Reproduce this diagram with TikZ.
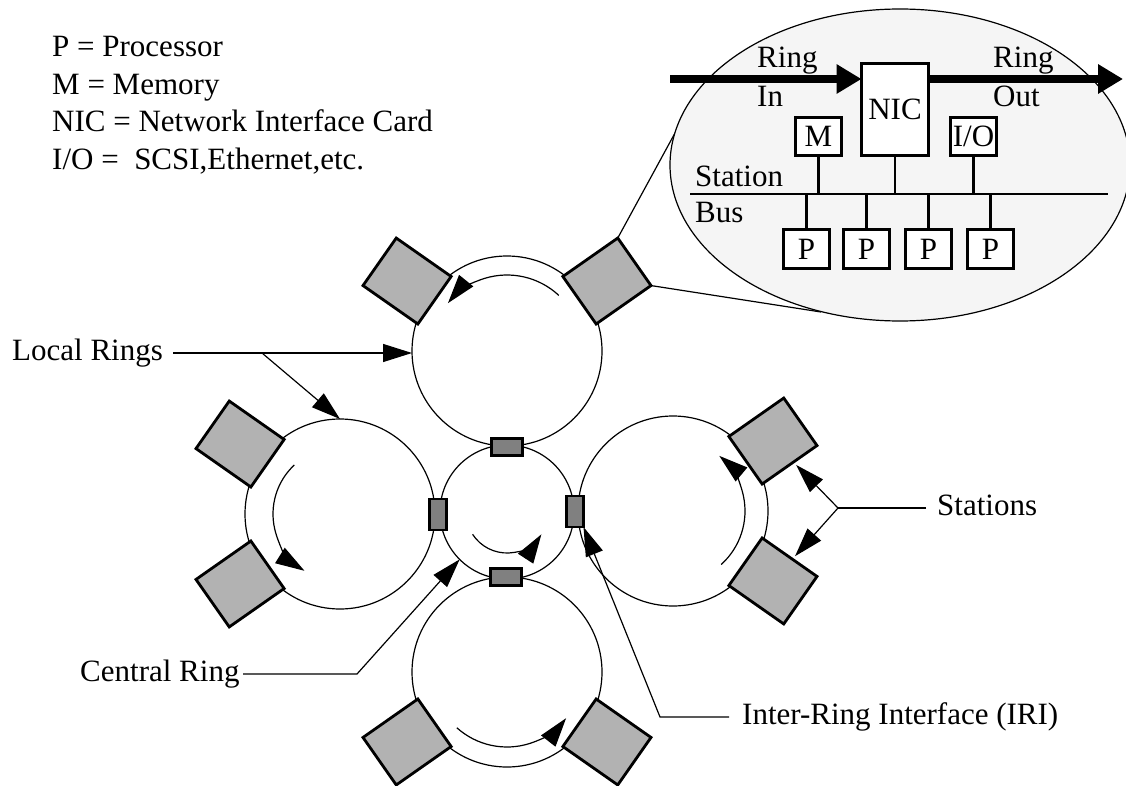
\documentclass[tikz,border=0pt]{standalone}
\usepackage{fontspec}
\setmainfont{Liberation Serif}
\usetikzlibrary{arrows.meta,calc,shapes.geometric}
\begin{document}
\begin{tikzpicture}[x=1pt,y=1pt,
  font=\fontsize{31}{37.7}\selectfont,
  ringnode/.style={circle, draw, line width=1.2pt, inner sep=0pt, outer sep=0pt},
  station/.style={draw, line width=2.8pt, fill=black!30, minimum width=67pt, minimum height=58pt, inner sep=0pt, outer sep=0pt},
  iri/.style={draw, line width=2.6pt, fill=black!50, inner sep=0pt, outer sep=0pt},
  flow/.style={line width=1.2pt, -{Triangle[length=29pt,width=18pt]}},
  conn/.style={line width=1.2pt},
  connarrow/.style={conn, -{Triangle[length=29pt,width=18pt]}},
  lbl/.style={anchor=base west, inner sep=0pt},
  box/.style={draw, line width=2.6pt, fill=white, inner sep=0pt, outer sep=0pt},
  bus/.style={line width=2.6pt},
  bigarrow/.style={line width=8pt, -{Triangle[length=25pt,width=28pt]}},
]
\useasboundingbox (0,0) rectangle (1126,-786);
\fill[white] (0,0) rectangle (1126,-786);

% ring centres
\coordinate (T) at (507,-351);
\coordinate (L) at (340,-514);
\coordinate (R) at (673,-511);
\coordinate (B) at (507,-672);
\coordinate (C) at (507,-512);

% rings
\node[ringnode, minimum size=190pt] (ringT) at (T) {};
\node[ringnode, minimum size=190pt] (ringL) at (L) {};
\node[ringnode, minimum size=190pt] (ringR) at (R) {};
\node[ringnode, minimum size=190pt] (ringB) at (B) {};
\node[ringnode, minimum size=134pt] (ringC) at (C) {};

% flow direction arrows
\draw[flow] ($(T)+(47:76)$) arc[start angle=47, end angle=141, radius=76];
\draw[flow] ($(L)+(133:67)$) arc[start angle=133, end angle=238, radius=67];
\draw[flow] ($(R)+(-48:72)$) arc[start angle=-48, end angle=50, radius=72];
\draw[flow] ($(B)+(228:75)$) arc[start angle=228, end angle=322, radius=75];
\draw[flow] ($(C)+(213:41)$) arc[start angle=213, end angle=327, radius=41];

% inter-ring interfaces
\node[iri, minimum width=31pt, minimum height=17pt] (iriT) at (507,-447) {};
\node[iri, minimum width=31pt, minimum height=17pt] (iriB) at (506,-577) {};
\node[iri, minimum width=17pt, minimum height=31pt] (iriL) at (438,-514.5) {};
\node[iri, minimum width=17pt, minimum height=31pt] (iriR) at (575,-511.5) {};

% callout end points on the inset
\coordinate (callA) at (675,-133);
\coordinate (callB) at (821,-312);

% stations
\node[station, rotate=35]  (sTR) at ($(T)+(35:122)$) {};
\node[station, rotate=145] (sTL) at ($(T)+(145:122)$) {};
\node[station, rotate=145] (sLa) at ($(L)+(145:122)$) {};
\node[station, rotate=215] (sLb) at ($(L)+(215:122)$) {};
\node[station, rotate=35]  (sRa) at ($(R)+(35:122)$) {};
\node[station, rotate=325] (sRb) at ($(R)+(325:122)$) {};
\node[station, rotate=215] (sBa) at ($(B)+(215:122)$) {};
\node[station, rotate=325] (sBb) at ($(B)+(325:122)$) {};

\draw[conn] (sTR.north east) -- (callA);
\draw[conn] (sTR.south east) -- (callB);

% legend
\node[lbl] (leg1) at (52,-57) {P = Processor};
\node[lbl] (leg2) at (52,-94.5) {M = Memory};
\node[lbl] (leg3) at (52,-132) {NIC = Network Interface Card};
\node[lbl] (leg4) at (52,-170) {I/O =\ \ SCSI,Ethernet,etc.};

% Local Rings label
\node[lbl] (lrtext) at (12,-360) {Local Rings};
\coordinate (lrstart) at (173,-353);
\coordinate (lrbranch) at (262,-353);
\draw[connarrow] (lrstart) -- (lrstart -| ringT.west);
\draw[connarrow] (lrbranch) -- (ringL.north);

% Stations label
\node[lbl] (sttext) at (937,-515) {Stations};
\coordinate (ststart) at (926,-508);
\coordinate (stj) at (838,-508);
\draw[conn] (ststart) -- (stj);
\draw[connarrow, shorten >=4pt] (stj) -- (sRa);
\draw[connarrow, shorten >=4pt] (stj) -- (sRb);

% Central Ring label
\node[lbl] (crtext) at (80,-681) {Central Ring};
\coordinate (crstart) at (243,-674);
\coordinate (crk) at (357,-674);
\draw[connarrow] (crstart) -- (crk) -- (ringC.225);

% IRI label
\node[lbl] (iritext) at (742,-724) {Inter-Ring Interface (IRI)};
\coordinate (iristart) at (729,-717);
\coordinate (irik) at (660,-717);
\draw[connarrow] (iristart) -- (irik) -- (iriR.south east);

% inset
\node[ellipse, draw, line width=1.2pt, fill=black!4, minimum width=460pt, minimum height=312pt, inner sep=0pt] (ins) at (900,-165) {};

\node[box, minimum width=67pt, minimum height=92pt] (nic) at (895,-109.5) {NIC};
\node[box, minimum width=46.5pt, minimum height=38.5pt] (mem) at (818.5,-136.5) {M};
\node[box, minimum width=46.5pt, minimum height=38.5pt] (io) at (973.5,-136.5) {I/O};
\node[box, minimum width=46.5pt, minimum height=39.5pt] (p1) at (806.5,-249) {P};
\node[box, minimum width=46.5pt, minimum height=39.5pt] (p2) at (866.5,-249) {P};
\node[box, minimum width=46.5pt, minimum height=39.5pt] (p3) at (928.5,-249) {P};
\node[box, minimum width=46.5pt, minimum height=39.5pt] (p4) at (990.5,-249) {P};

\coordinate (busL) at (690,-194);
\coordinate (busR) at (1108,-194);
\draw[bus] (busL) -- (busR);
\foreach \n in {mem,nic,io} \draw[bus] (\n.south) -- (\n.south |- busL);
\foreach \n in {p1,p2,p3,p4} \draw[bus] (\n.north) -- (\n.north |- busL);

\coordinate (ringin) at (670,-79);
\coordinate (ringout) at (1123,-79);
\draw[bigarrow] (ringin) -- (ringin -| nic.west);
\draw[bigarrow] (ringout -| nic.east) -- (ringout);

\node[lbl] (rin1) at (757,-68) {Ring};
\node[lbl] (rin2) at (757,-107) {In};
\node[lbl] (rout1) at (993,-68) {Ring};
\node[lbl] (rout2) at (993,-107) {Out};
\node[lbl] (sb1) at (695,-187) {Station};
\node[lbl] (sb2) at (695,-223) {Bus};
\end{tikzpicture}
\end{document}
